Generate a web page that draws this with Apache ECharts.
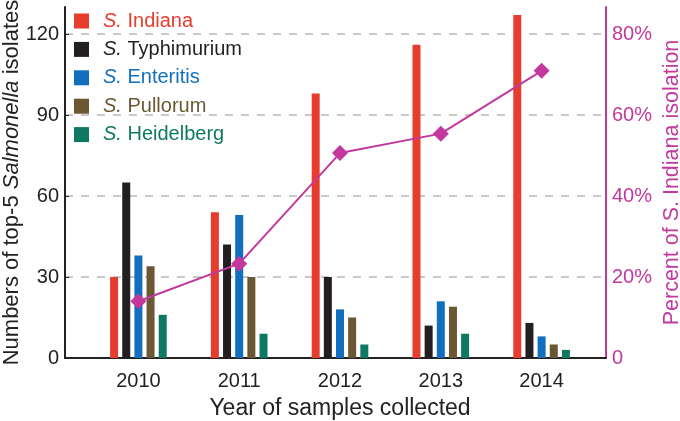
<!DOCTYPE html>
<html>
<head>
<meta charset="utf-8">
<script src="https://cdn.jsdelivr.net/npm/echarts@6/dist/echarts.min.js"></script>
<style>
  html, body { margin: 0; padding: 0; background: #fff; }
  #chart { width: 680px; height: 421px; }
</style>
</head>
<body>
<div id="chart"></div>
<script>
// data
var years = ['2010', '2011', '2012', '2013', '2014'];
var names = ['S. Indiana', 'S. Typhimurium', 'S. Enteritis', 'S. Pullorum', 'S. Heidelberg'];
var colors = ['#e63d2e', '#231f20', '#116fbe', '#6b5733', '#0f7862'];
var indiana = [30, 54, 98, 116, 127];
var typhimurium = [65, 42, 30, 12, 13];
var enteritis = [38, 53, 18, 21, 8];
var pullorum = [34, 30, 15, 19, 5];
var heidelberg = [16, 9, 5, 9, 3];
var percentIndiana = [14.0, 23.3, 50.6, 55.4, 70.9];
var leftTicks = [0, 30, 60, 90, 120];
var rightTicks = ['0', '20%', '40%', '60%', '80%'];

var magenta = '#c2389c';
var font = "'Liberation Sans', Arial, sans-serif";
var counts = [indiana, typhimurium, enteritis, pullorum, heidelberg];
var leftMax = 130, rightMax = 130 * 80 / 120;

var legendRich = {};
names.forEach(function (n, i) {
    legendRich['i' + i] = { fontStyle: 'italic', color: colors[i], fontSize: 20, fontFamily: font };
    legendRich['t' + i] = { color: colors[i], fontSize: 20, fontFamily: font };
});

var series = names.map(function (n, i) {
    return {
        name: n,
        type: 'bar',
        xAxisIndex: 1,
        yAxisIndex: 2,
        barWidth: 8,
        barGap: '52%',
        itemStyle: { color: colors[i] },
        data: counts[i]
    };
});
series.push({
    name: 'percent',
    type: 'line',
    xAxisIndex: 1,
    yAxisIndex: 3,
    symbol: 'diamond',
    symbolSize: 16,
    z: 5,
    lineStyle: { color: magenta, width: 2 },
    itemStyle: { color: magenta },
    data: percentIndiana
});

var myChart = echarts.init(document.getElementById('chart'));
myChart.setOption({
    animation: false,
    textStyle: { fontFamily: font },
    grid: [
        { left: 65, right: 74, top: 7, bottom: 63, outerBoundsMode: 'none', containLabel: false },
        { left: 88, right: 88, top: 7, bottom: 63, outerBoundsMode: 'none', containLabel: false }
    ],
    legend: {
        data: names,
        orient: 'vertical',
        left: 69,
        top: 6,
        icon: 'rect',
        itemWidth: 15,
        itemHeight: 15,
        itemGap: 8.4,
        textStyle: { fontSize: 20, lineHeight: 15, padding: [0, 0, 0, 9], rich: legendRich },
        formatter: function (name) {
            var i = names.indexOf(name);
            return '{i' + i + '|S.}{t' + i + '| ' + name.slice(3) + '}';
        }
    },
    xAxis: [
        {
            gridIndex: 0, type: 'value', min: 0, max: 1,
            axisLine: { show: true, lineStyle: { color: '#222', width: 2 } },
            axisTick: { show: false }, axisLabel: { show: false }, splitLine: { show: false }
        },
        {
            gridIndex: 1, type: 'category', data: years,
            axisLine: { show: false }, axisTick: { show: false },
            axisLabel: { fontSize: 20, color: '#222', margin: 13 },
            name: 'Year of samples collected',
            nameLocation: 'middle',
            nameGap: 39,
            nameTextStyle: { fontSize: 23, color: '#222' }
        }
    ],
    yAxis: [
        {
            gridIndex: 0, type: 'value', position: 'left', min: 0, max: leftMax, interval: 30,
            axisLine: { show: true, lineStyle: { color: '#222', width: 2 } },
            axisTick: { show: true, inside: true, length: 4, lineStyle: { color: '#222' } },
            axisLabel: {
                fontSize: 20, color: '#222', margin: 6, showMaxLabel: false,
                formatter: function (v) { return leftTicks.indexOf(v) >= 0 ? String(v) : ''; }
            },
            splitLine: {
                show: true, showMinLine: false, showMaxLine: false,
                lineStyle: { color: '#c8c8c8', type: [8, 8], width: 2 }
            },
            name: 'Numbers of top-5 {i|Salmonella} isolates',
            nameLocation: 'middle',
            nameMoveOverlap: false,
            nameGap: 42,
            nameTextStyle: {
                fontSize: 22, color: '#222',
                rich: { i: { fontStyle: 'italic', fontSize: 22, color: '#222', fontFamily: font } }
            }
        },
        {
            gridIndex: 0, type: 'value', position: 'right', min: 0, max: rightMax, interval: 20,
            axisLine: { show: true, lineStyle: { color: magenta, width: 2 } },
            axisTick: { show: false },
            axisLabel: {
                fontSize: 20, color: magenta, margin: 6, showMaxLabel: false,
                formatter: function (v) { var k = Math.round(v / 20); return (v % 20 === 0 && k < rightTicks.length) ? rightTicks[k] : ''; }
            },
            splitLine: { show: false },
            name: 'Percent of S. Indiana isolation',
            nameLocation: 'middle',
            nameMoveOverlap: false,
            nameGap: 55,
            nameTextStyle: { fontSize: 21.5, color: magenta }
        },
        { gridIndex: 1, type: 'value', min: 0, max: leftMax, show: false, splitLine: { show: false } },
        { gridIndex: 1, type: 'value', min: 0, max: rightMax, show: false, splitLine: { show: false } }
    ],
    series: series
});
</script>
</body>
</html>
